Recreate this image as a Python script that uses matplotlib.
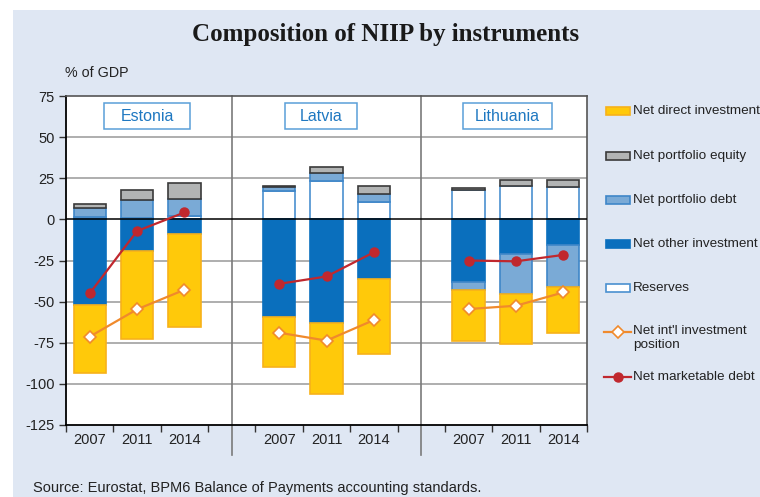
import matplotlib
matplotlib.use("Agg")
import matplotlib.pyplot as plt
from matplotlib.patches import Rectangle
from matplotlib.lines import Line2D

plt.rcParams["font.family"] = ["Liberation Sans", "DejaVu Sans"]

COUNTRIES = ["Estonia", "Latvia", "Lithuania"]
YEARS = ["2007", "2011", "2014"]
# one value per bar: Estonia 07/11/14, Latvia 07/11/14, Lithuania 07/11/14
RESERVES = [1.4, 0.6, 1.8, 17.2, 23.6, 10.5, 17.8, 20.3, 19.8]
PORTFOLIO_DEBT = [5.6, 11.1, 10.7, 2.4, 4.5, 5.1, -5.0, -24.7, -25.6]
PORTFOLIO_EQUITY = [2.3, 6.0, 9.7, 0.8, 3.6, 4.6, 1.0, 3.4, 4.0]
OTHER_INVESTMENT = [-52.1, -19.2, -8.7, -59.4, -63.2, -36.0, -38.0, -20.8, -15.8]
DIRECT_INVESTMENT = [-41.0, -53.7, -56.6, -30.1, -42.8, -46.0, -31.0, -30.5, -27.5]
NIIP = [-71.3, -54.7, -42.8, -68.9, -73.7, -61.2, -54.5, -52.5, -44.4]
MARKETABLE_DEBT = [-45.0, -7.1, 4.2, -39.2, -34.7, -20.0, -25.0, -25.5, -21.6]

BG = "#dfe7f3"
W, H = 760, 497

fig = plt.figure(figsize=(7.6, 4.97), dpi=100)
fig.patch.set_facecolor("white")
# light panel behind everything
fig.patches.append(Rectangle((13 / W, 0), 1, 1 - 10 / H, transform=fig.transFigure,
                             facecolor=BG, edgecolor="none", zorder=-10))

ax = fig.add_axes([66 / W, 1 - 425 / H, 521 / W, 329 / H])
ax.set_facecolor("white")

positions = []
for c in range(len(COUNTRIES)):
    positions += [c * 4 + i for i in range(len(YEARS))]

# stacking order: positives go up, negatives go down, in this order
series = [
    (RESERVES, dict(facecolor="white", edgecolor="#4a90d0")),
    (OTHER_INVESTMENT, dict(facecolor="#0a6fbd", edgecolor="#0a6fbd")),
    (PORTFOLIO_DEBT, dict(facecolor="#7aaad6", edgecolor="#3f86c8")),
    (PORTFOLIO_EQUITY, dict(facecolor="#b2b4b4", edgecolor="#3a3a3a")),
    (DIRECT_INVESTMENT, dict(facecolor="#ffc90a", edgecolor="#f7b21a")),
]
pos_bottom = [0.0] * len(positions)
neg_bottom = [0.0] * len(positions)
for values, style in series:
    bottoms = []
    for i, v in enumerate(values):
        if v >= 0:
            bottoms.append(pos_bottom[i])
            pos_bottom[i] += v
        else:
            bottoms.append(neg_bottom[i])
            neg_bottom[i] += v
    ax.bar(positions, values, bottom=bottoms, width=0.68, linewidth=1.2,
           zorder=3, **style)

for c in range(len(COUNTRIES)):
    sl = slice(c * 3, c * 3 + 3)
    xs = positions[sl]
    ax.plot(xs, NIIP[sl], color="#f08a2c", lw=1.6, marker="D", markersize=6,
            markerfacecolor="white", markeredgecolor="#f08a2c",
            markeredgewidth=1.2, zorder=5)
    ax.plot(xs, MARKETABLE_DEBT[sl], color="#c0282e", lw=1.6, marker="o",
            markersize=6.5, markerfacecolor="#c0282e", markeredgecolor="#c0282e",
            zorder=6)

ax.set_xlim(-0.5, 10.5)
ax.set_ylim(-125, 75)
ax.set_yticks(range(-125, 76, 25))
ax.set_yticklabels([str(v) for v in range(-125, 76, 25)], fontsize=10.5)
for v in range(-100, 75, 25):
    if v != 0:
        ax.axhline(v, color="#a8a8a8", lw=1.3, zorder=1)
ax.axhline(0, color="black", lw=1.1, zorder=4)

ax.set_xticks([x - 0.5 for x in range(12)])
ax.set_xticklabels([])
ax.tick_params(axis="x", direction="out", length=5, width=1, color="#333333")
ax.tick_params(axis="y", direction="out", length=5, width=1, color="#333333",
               pad=3, labelcolor="#222222")
for x, lab in zip(positions, YEARS * len(COUNTRIES)):
    ax.text(x, -0.025, lab, transform=ax.get_xaxis_transform(), ha="center",
            va="top", fontsize=10.5, color="#222222")

for x in [3, 7]:
    ax.add_line(Line2D([x, x], [1, -30 / 329], transform=ax.get_xaxis_transform(),
                       color="#7a7a7a", lw=1.2, clip_on=False, zorder=2))

for side in ["left", "bottom"]:
    ax.spines[side].set_color("black")
    ax.spines[side].set_linewidth(1.3)
for side in ["top", "right"]:
    ax.spines[side].set_color("#555555")
    ax.spines[side].set_linewidth(1.2)

# country name boxes (pixel layout: left, right)
boxes = [(104, 190), (285, 357), (463, 552)]
for (x0, x1), name in zip(boxes, COUNTRIES):
    fig.patches.append(Rectangle((x0 / W, 1 - 129 / H), (x1 - x0) / W, 26 / H,
                                 transform=fig.transFigure, facecolor="white",
                                 edgecolor="#5a9fd8", linewidth=1.1, zorder=7))
    fig.text((x0 + x1) / 2 / W, 1 - 116.5 / H, name, ha="center", va="center",
             fontsize=11.5, color="#1f78c1", zorder=8)

fig.text(385.5 / W, 1 - 35 / H, "Composition of NIIP by instruments",
         family=["Liberation Serif", "DejaVu Serif"], fontweight="bold",
         fontsize=18, ha="center", va="center", color="#1a1a1a")
fig.text(65 / W, 1 - 73 / H, "% of GDP", fontsize=10.3, ha="left", va="center",
         color="#222222")
fig.text(33 / W, 1 - 488 / H, "Source: Eurostat, BPM6 Balance of Payments accounting standards.",
         fontsize=10.5, ha="left", va="center", color="#222222")

# legend drawn by hand to follow the original spacing
legend_items = [
    ("patch", "Net direct investment", series[4][1], 111),
    ("patch", "Net portfolio equity", series[3][1], 156),
    ("patch", "Net portfolio debt", series[2][1], 200),
    ("patch", "Net other investment", series[1][1], 244),
    ("patch", "Reserves", series[0][1], 288),
    ("niip", "Net int'l investment\nposition", None, 332),
    ("debt", "Net marketable debt", None, 377),
]
for kind, label, style, ypx in legend_items:
    yf = 1 - ypx / H
    if kind == "patch":
        fig.patches.append(Rectangle((606 / W, yf - 4 / H), 24 / W, 8 / H,
                                     transform=fig.transFigure, linewidth=1.2,
                                     **style))
    elif kind == "niip":
        fig.lines.append(Line2D([604 / W, 631 / W], [yf, yf], transform=fig.transFigure,
                                color="#f08a2c", lw=1.6))
        fig.lines.append(Line2D([617.5 / W], [yf], transform=fig.transFigure,
                                marker="D", markersize=6, markerfacecolor="white",
                                markeredgecolor="#f08a2c", markeredgewidth=1.2))
    else:
        fig.lines.append(Line2D([604 / W, 631 / W], [yf, yf], transform=fig.transFigure,
                                color="#c0282e", lw=1.6))
        fig.lines.append(Line2D([617.5 / W], [yf], transform=fig.transFigure,
                                marker="o", markersize=6.5, markerfacecolor="#c0282e",
                                markeredgecolor="#c0282e"))
    va = "top" if "\n" in label else "center"
    ty = yf + 7 / H if "\n" in label else yf
    fig.text(633 / W, ty, label, fontsize=9.7, ha="left", va=va, color="#222222",
             linespacing=1.2)

fig.savefig("out.png", dpi=100, facecolor=fig.get_facecolor())
